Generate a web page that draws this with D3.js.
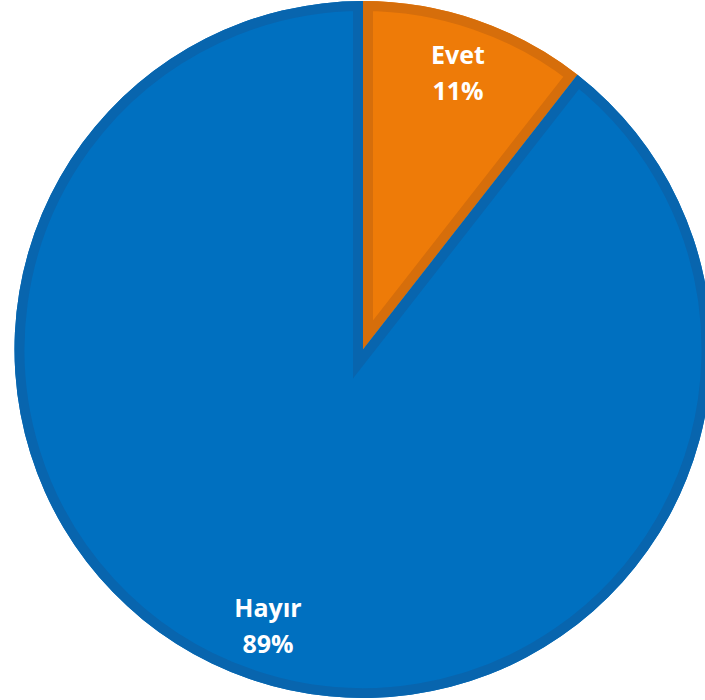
<!DOCTYPE html>
<html>
<head>
<meta charset="utf-8">
<script src="https://cdn.jsdelivr.net/npm/d3@7"></script>
<style>
  html, body { margin: 0; padding: 0; background: #fff; }
  svg { display: block; }
</style>
</head>
<body>
<svg id="chart" width="705" height="700"></svg>
<script>
const categories = ["Evet", "Hayır"];
const values = [10.55, 89.45];
const fills = ["#ee7b08", "#0070c0"];
const borders = ["#d66e0b", "#0865ae"];

const svg = d3.select("#chart");
const cx = 363, cy = 349.5, r = 348.5;
const g = svg.append("g").attr("transform", `translate(${cx},${cy})`);

const data = categories.map((c, i) => ({ name: c, value: values[i], i }));
const pie = d3.pie().value(d => d.value).sort(null);
const arcs = pie(data);
const arc = d3.arc().innerRadius(0).outerRadius(r);
const labelArc = d3.arc().innerRadius(292).outerRadius(292);

const defs = svg.append("defs");
arcs.forEach((a, i) => {
  defs.append("clipPath").attr("id", "clip" + i)
    .append("path").attr("d", arc(a));
});

const slices = g.selectAll("g.slice").data(arcs).join("g").attr("class", "slice");
slices.append("path")
  .attr("d", arc)
  .attr("fill", d => fills[d.data.i]);
slices.append("path")
  .attr("d", arc)
  .attr("fill", "none")
  .attr("stroke", d => borders[d.data.i])
  .attr("stroke-width", 20)
  .attr("stroke-linejoin", "miter")
  .attr("clip-path", d => `url(#clip${d.data.i})`);

const total = d3.sum(values);
const labels = g.selectAll("text.lbl").data(arcs).join("text")
  .attr("class", "lbl")
  .attr("transform", d => `translate(${labelArc.centroid(d)})`)
  .attr("text-anchor", "middle")
  .attr("fill", "#ffffff")
  .style("font-family", "'Open Sans', 'Noto Sans', sans-serif")
  .style("font-weight", "700")
  .style("font-size", "25px");
labels.append("tspan").attr("x", 0).attr("y", -9).text(d => d.data.name);
labels.append("tspan").attr("x", 0).attr("y", 27)
  .text(d => Math.round(d.data.value / total * 100) + "%");
</script>
</body>
</html>
